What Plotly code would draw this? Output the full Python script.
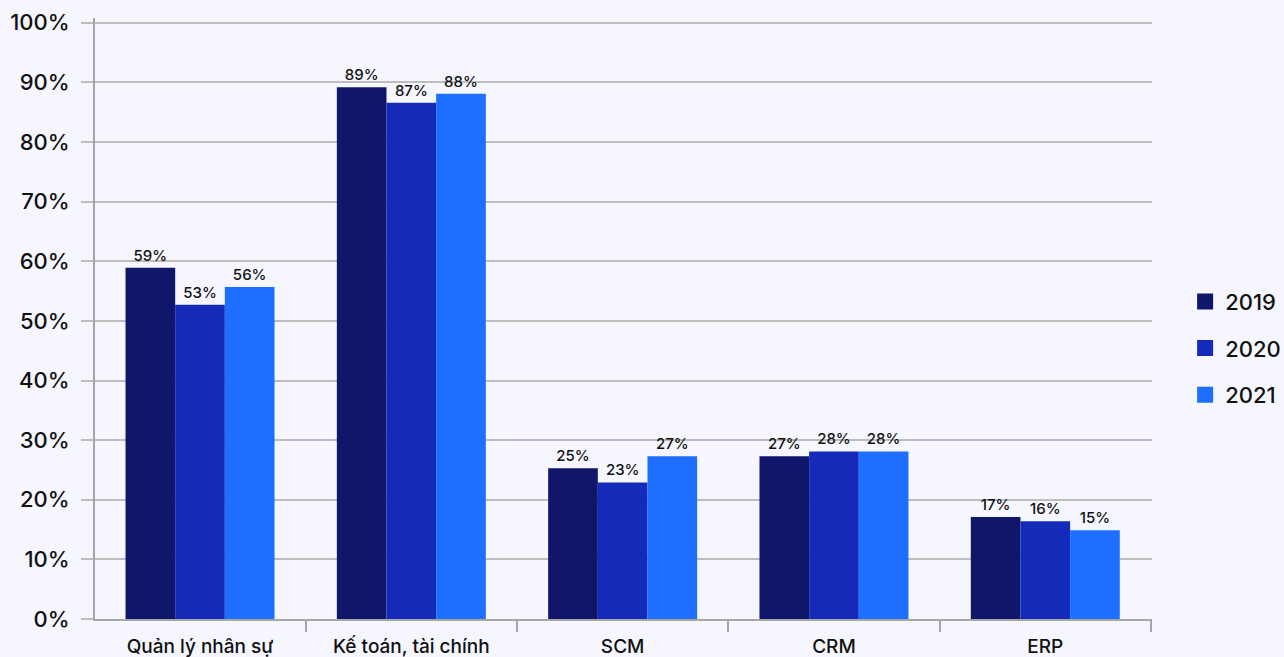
import plotly.graph_objects as go

# Survey share of firms using each software category, by year (%)
categories = ["Quản lý nhân sự", "Kế toán, tài chính", "SCM", "CRM", "ERP"]
years = ["2019", "2020", "2021"]
values_2019 = [58.9, 89.2, 25.3, 27.3, 17.1]
values_2020 = [52.7, 86.6, 22.9, 28.1, 16.4]
values_2021 = [55.7, 88.1, 27.3, 28.1, 14.9]
colors = ["#10166A", "#142AB8", "#1E6FFF"]
y_ticks = list(range(0, 101, 10))
y_tick_text = [f"{v}%" for v in y_ticks]

FONT = "Inter"
fig = go.Figure()

for year, vals, col in zip(years, [values_2019, values_2020, values_2021], colors):
    fig.add_trace(go.Bar(
        x=categories, y=vals, name=year, marker_color=col, marker_line_width=0,
        text=[f"{round(v)}%" for v in vals], textposition="outside",
        textfont=dict(size=15, color="#111111", family=FONT, weight=500),
        cliponaxis=False, showlegend=False,
    ))
    # larger square swatches for the legend
    fig.add_trace(go.Scatter(
        x=[None], y=[None], mode="markers", name=year, legendgroup=year,
        marker=dict(symbol="square", size=17, color=col),
    ))

fig.update_layout(
    width=1284, height=657,
    paper_bgcolor="#F5F6FE", plot_bgcolor="#F5F6FE",
    margin=dict(l=95, r=132, t=18, b=38),
    barmode="group", bargap=0.295, bargroupgap=0,
    font=dict(family=FONT, color="#111111"),
    legend=dict(xref="container", yref="container", x=0.923, y=0.47,
                xanchor="left", yanchor="middle",
                font=dict(size=22, color="#111111", family=FONT, weight=500),
                tracegroupgap=15, itemwidth=30, bgcolor="rgba(0,0,0,0)"),
    xaxis=dict(range=[-0.497, 4.505], showline=True, linecolor="#A6A6A6", linewidth=2,
               ticks="outside", tickson="boundaries", ticklen=11, tickcolor="#A6A6A6",
               tickwidth=2, tickfont=dict(size=19, color="#111111", weight=500),
               ticklabelstandoff=9, automargin=False, showgrid=False),
    yaxis=dict(range=[0, 100.8], tickvals=y_ticks, ticktext=y_tick_text,
               showgrid=True, gridcolor="#BDBDBD", gridwidth=1.5,
               showline=True, linecolor="#A6A6A6", linewidth=2,
               ticks="outside", ticklen=12, tickcolor="#BDBDBD", tickwidth=1.5,
               tickfont=dict(size=22, color="#111111", weight=500), ticklabelstandoff=7,
               zeroline=False, automargin=False),
)

fig.write_html("out.html")
